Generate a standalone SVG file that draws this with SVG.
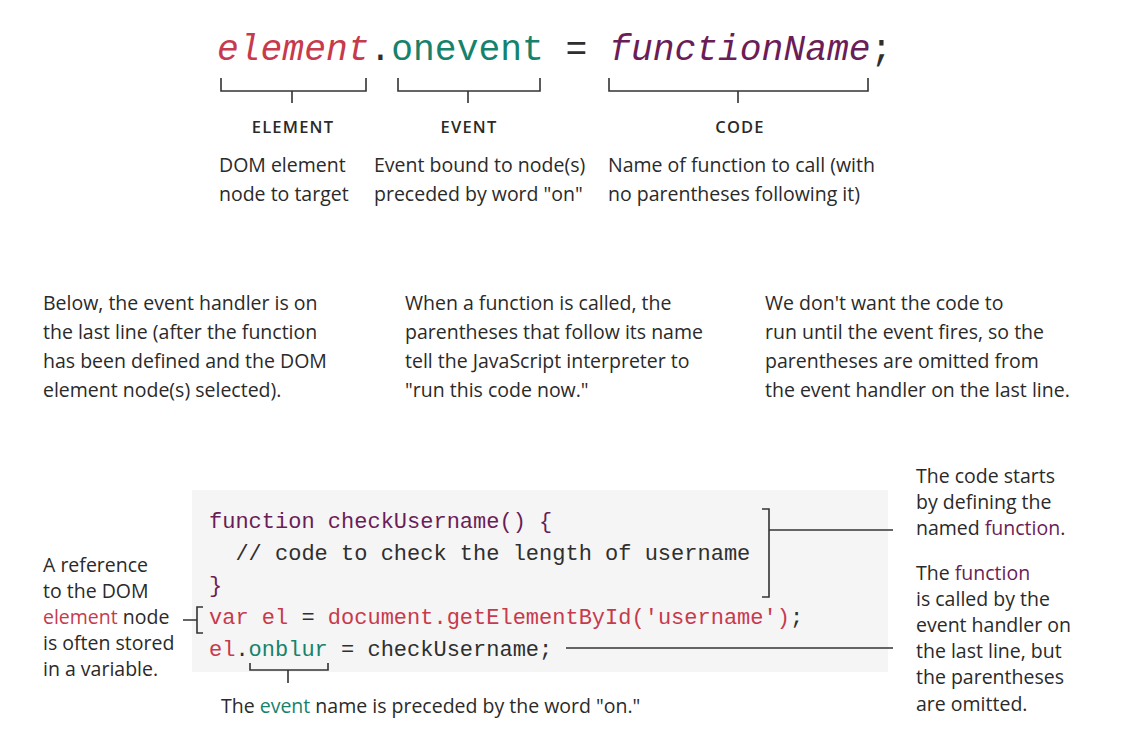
<svg xmlns="http://www.w3.org/2000/svg" width="1134" height="745" viewBox="0 0 1134 745">
  <style>
    .mono { font-family: "Liberation Mono", "DejaVu Sans Mono", monospace; }
    .txt { font-family: "Open Sans", Lato, "Liberation Sans", sans-serif; font-size: 19.5px; fill: #2a2a2a; }
    .cap { font-family: "Open Sans", Lato, "Liberation Sans", sans-serif; font-size: 16.5px; font-weight: 600; fill: #2a2a2a; letter-spacing: 1.2px; }
    .red { fill: #c73a4d; }
    .green { fill: #17826b; }
    .purple { fill: #6a1d57; }
    .dark { fill: #2f2f2f; }
    .ln { stroke: #333; stroke-width: 1.6; fill: none; }
  </style>
  <rect width="1134" height="745" fill="#ffffff"/>

  <!-- syntax line -->
  <g id="syntax">
    <text class="mono" x="217" y="60" font-size="36.3"><tspan class="red" font-style="italic">element</tspan><tspan class="dark">.</tspan><tspan class="green">onevent</tspan><tspan class="dark"> = </tspan><tspan class="purple" font-style="italic">functionName</tspan><tspan class="dark">;</tspan></text>
  </g>

  <!-- part labels under the syntax line -->
  <g id="part-element">
    <path class="ln" d="M221 78 V91 H366 V78 M292 91 V103"/>
    <text class="cap" x="293" y="133" text-anchor="middle">ELEMENT</text>
    <text class="txt" x="219" y="172">DOM element</text>
    <text class="txt" x="219" y="201">node to target</text>
  </g>
  <g id="part-event">
    <path class="ln" d="M398 78 V91 H540 V78 M468 91 V103"/>
    <text class="cap" x="469" y="133" text-anchor="middle">EVENT</text>
    <text class="txt" x="374" y="172">Event bound to node(s)</text>
    <text class="txt" x="374" y="201">preceded by word "on"</text>
  </g>
  <g id="part-code">
    <path class="ln" d="M609 78 V91 H868 V78 M738 91 V103"/>
    <text class="cap" x="740" y="133" text-anchor="middle">CODE</text>
    <text class="txt" x="608" y="172">Name of function to call (with</text>
    <text class="txt" x="608" y="201">no parentheses following it)</text>
  </g>

  <!-- explanatory paragraphs -->
  <g id="note-handler">
    <text class="txt" x="43" y="310">Below, the event handler is on</text>
    <text class="txt" x="43" y="339">the last line (after the function</text>
    <text class="txt" x="43" y="368">has been defined and the DOM</text>
    <text class="txt" x="43" y="397">element node(s) selected).</text>
  </g>
  <g id="note-call">
    <text class="txt" x="405" y="310">When a function is called, the</text>
    <text class="txt" x="405" y="339">parentheses that follow its name</text>
    <text class="txt" x="405" y="368">tell the JavaScript interpreter to</text>
    <text class="txt" x="405" y="397">"run this code now."</text>
  </g>
  <g id="note-omit">
    <text class="txt" x="765" y="310">We don't want the code to</text>
    <text class="txt" x="765" y="339">run until the event fires, so the</text>
    <text class="txt" x="765" y="368">parentheses are omitted from</text>
    <text class="txt" x="765" y="397">the event handler on the last line.</text>
  </g>

  <!-- code listing -->
  <g id="code">
    <rect x="192" y="490" width="696" height="182" fill="#f5f5f5"/>
    <text class="mono" font-size="22" xml:space="preserve">
      <tspan x="209" y="528" class="purple">function checkUsername() {</tspan>
      <tspan x="209" y="560" class="dark">  // code to check the length of username</tspan>
      <tspan x="209" y="592" class="purple">}</tspan>
      <tspan x="209" y="624" class="red">var el <tspan class="dark">=</tspan> document.getElementById('username')<tspan class="dark">;</tspan></tspan>
      <tspan x="209" y="656" class="red">el<tspan class="dark">.</tspan><tspan class="green">onblur</tspan><tspan class="dark"> = checkUsername;</tspan></tspan>
    </text>
  </g>

  <!-- side notes -->
  <g id="note-reference">
    <text class="txt" x="43" y="572">A reference</text>
    <text class="txt" x="43" y="598">to the DOM</text>
    <text class="txt" x="43" y="624"><tspan class="red">element</tspan> node</text>
    <text class="txt" x="43" y="650">is often stored</text>
    <text class="txt" x="43" y="676">in a variable.</text>
  </g>
  <g id="note-define">
    <text class="txt" x="916" y="483">The code starts</text>
    <text class="txt" x="916" y="509">by defining the</text>
    <text class="txt" x="916" y="535">named <tspan class="purple">function</tspan>.</text>
  </g>
  <g id="note-called">
    <text class="txt" x="916" y="580">The <tspan class="purple">function</tspan></text>
    <text class="txt" x="916" y="606">is called by the</text>
    <text class="txt" x="916" y="632">event handler on</text>
    <text class="txt" x="916" y="658">the last line, but</text>
    <text class="txt" x="916" y="684">the parentheses</text>
    <text class="txt" x="916" y="711">are omitted.</text>
  </g>
  <g id="note-event">
    <text class="txt" x="221" y="713">The <tspan class="green">event</tspan> name is preceded by the word "on."</text>
  </g>

  <!-- connectors -->
  <g id="connectors">
    <path class="ln" d="M762 509 H769 V597 H762"/>
    <path class="ln" d="M769 530 H893"/>
    <path class="ln" d="M566 648 H893"/>
    <path class="ln" d="M183 620 H197 M203 607 H197 V633 H203"/>
    <path class="ln" d="M250 663 V670 H328 V663 M288 670 V683"/>
  </g>
</svg>
